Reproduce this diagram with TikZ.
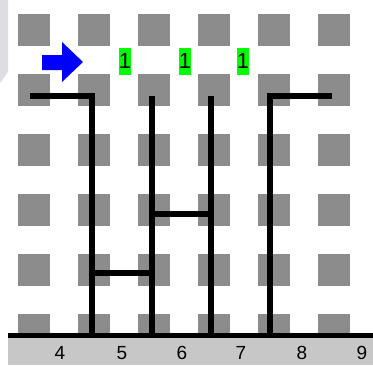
\documentclass[tikz,border=0pt]{standalone}
\usepackage{fontspec}
\setmainfont{Liberation Sans}
\begin{document}
\begin{tikzpicture}[x=1pt,y=-1pt,
  cell/.style={fill=black!45,draw=none},
  wire/.style={line width=5.5pt,black},
  numlbl/.style={font=\fontsize{19}{19}\selectfont,inner sep=0pt},
  onelbl/.style={fill=green,inner sep=0pt,minimum width=10pt,minimum height=27pt,font=\fontsize{22}{22}\selectfont}]
\useasboundingbox (0,0) rectangle (373,365);
\fill[white] (0,0) rectangle (373,365);
% corner shade
\fill[blue!8!gray!25] (0,0) -- (8,0) -- (8,72) -- (0,83) -- cycle;
% grid of squares
\foreach \cx in {34,94,154,214,274,334}
  \foreach \cy in {30,90,150,210,270,330}
    \fill[cell] (\cx-16,\cy-16) rectangle (\cx+16,\cy+16);
% bottom bar
\fill[black!22] (8,335) rectangle (373,365);
\coordinate (bl) at (8,335);
\coordinate (br) at (373,335);
\draw[line width=5pt] (bl) -- (br);
% labels
\foreach \n/\lx in {4/60,5/122,6/182,7/241,8/302,9/362}
  \node[numlbl] (n\n) at (\lx,353) {\n};
% vertical lines
\coordinate (a0) at (30,96);
\coordinate (a1) at (92,96);
\coordinate (a2) at (92,335);
\coordinate (b1) at (152,96);
\coordinate (b2) at (152,335);
\coordinate (c1) at (211,96);
\coordinate (c2) at (211,335);
\coordinate (d1) at (270,96);
\coordinate (d2) at (270,335);
\coordinate (d0) at (332,96);
\draw[wire] (a0) -- (a1) -- (a2);
\draw[wire] (b1) -- (b2);
\draw[wire] (c1) -- (c2);
\draw[wire] (d0) -- (d1) -- (d2);
% rungs
\coordinate (r1a) at (152,214);
\coordinate (r1b) at (211,214);
\coordinate (r2a) at (92,273);
\coordinate (r2b) at (152,273);
\draw[wire] (r1a) -- (r1b);
\draw[wire] (r2a) -- (r2b);
% blue arrow
\fill[blue] (42,55) -- (62,55) -- (62,42) -- (83,62) -- (62,82) -- (62,70) -- (42,70) -- cycle;
% green labels
\node[onelbl] (g1) at (125,61) {1};
\node[onelbl] (g2) at (185,61) {1};
\node[onelbl] (g3) at (243,61) {1};
\end{tikzpicture}
\end{document}
